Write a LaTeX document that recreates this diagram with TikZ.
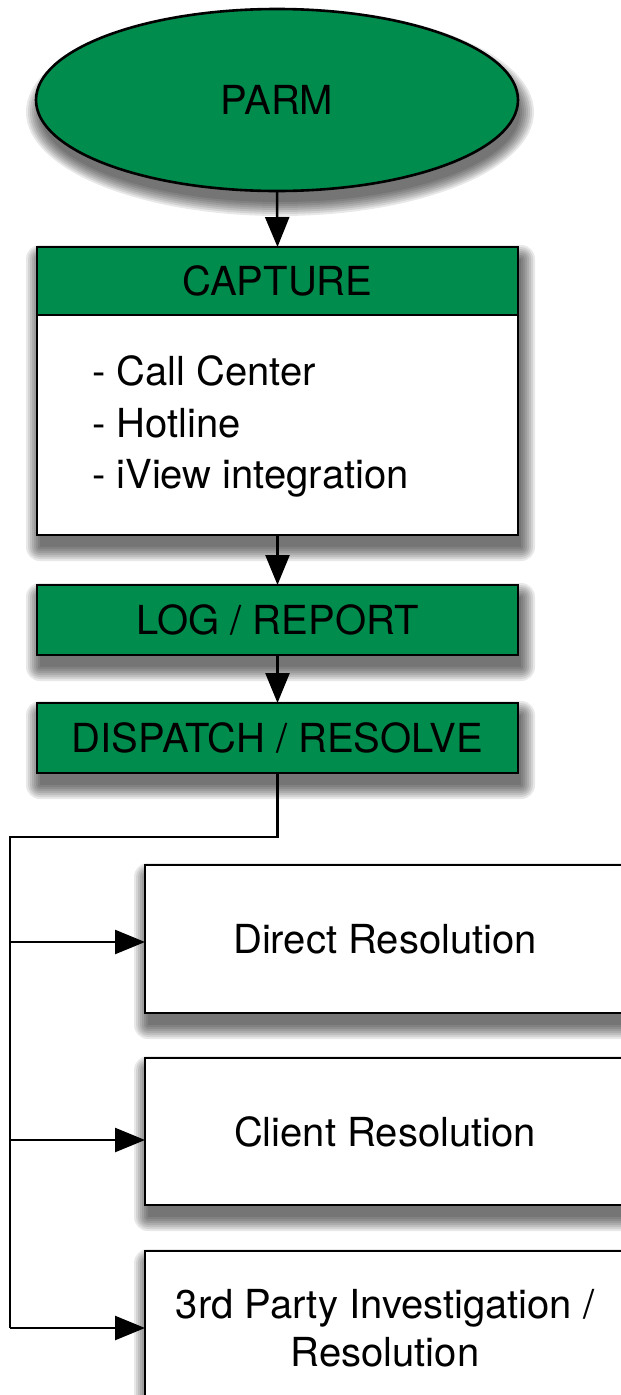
\documentclass[tikz,border=0pt]{standalone}
\usepackage{fontspec}
\setmainfont{TeX Gyre Heros}
\usetikzlibrary{arrows.meta,shapes.geometric,backgrounds,calc}
\definecolor{parmgreen}{RGB}{0,140,76}
\begin{document}
\begin{tikzpicture}[x=1pt,y=1pt,
  every node/.style={font=\fontsize{40}{48}\selectfont, inner sep=0pt, outer sep=0pt, text=black},
  greenbox/.style={rectangle, draw=black, line width=2.6pt, fill=parmgreen, minimum width=481pt, minimum height=70pt},
  whitebox/.style={rectangle, draw=black, line width=2.6pt, fill=white, minimum width=480pt},
  itemtext/.style={anchor=base west},
  arr/.style={line width=2.5pt, -{Triangle[length=30pt,width=24pt]}},
  conn/.style={line width=2.5pt},
  shadelayer/.style={fill=black, opacity=0.09}
]
\useasboundingbox (0,0) rectangle (621,-1395);

% top ellipse
\node[ellipse, draw=black, line width=2.6pt, fill=parmgreen, minimum width=482pt, minimum height=182pt] (parm) at (277,-100) {PARM};

% capture
\node[greenbox, minimum height=68pt] (caphead) at (277.5,-281) {CAPTURE};
\node[whitebox, minimum width=481pt, minimum height=220pt, anchor=north] (capbody) at (caphead.south) {};
\node[itemtext] (it1) at (92,-385) {- Call Center};
\node[itemtext] (it2) at (92,-437) {- Hotline};
\node[itemtext] (it3) at (92,-488) {- iView integration};

% log / dispatch
\node[greenbox] (log) at (277.5,-620) {LOG / REPORT};
\node[greenbox] (disp) at (277.5,-738) {DISPATCH / RESOLVE};

% resolution boxes
\node[whitebox, minimum height=148pt] (direct) at (385,-939) {Direct Resolution};
\node[whitebox, minimum height=147pt] (client) at (385,-1131.5) {Client Resolution};
\node[whitebox, minimum height=154pt, align=center] (third) at (385,-1328) {3rd Party Investigation /\\Resolution};

% soft drop shadows
\begin{scope}[on background layer]
  \fill[white] (0,0) rectangle (621,-1395);
  \foreach \k in {0,2,...,14} {
    \fill[shadelayer] ($(parm.center)+(3,-12)$) ellipse ({240+\k} and {90+\k});
  }
  \foreach \a/\b in {caphead/capbody, log/log, disp/disp, direct/direct, client/client, third/third} {
    \foreach \k in {0,2,...,14} {
      \fill[shadelayer, rounded corners=\k pt] ($(\b.south west)+(3-\k,-12-\k)$) rectangle ($(\a.north east)+(3+\k,-12+\k)$);
    }
  }
\end{scope}

% connectors
\draw[arr] (parm.south) -- (caphead.north);
\draw[arr] (capbody.south) -- (log.north);
\draw[arr] (log.south) -- (disp.north);

\coordinate (bend) at (10,-837);
\coordinate (t1) at (10,-942);
\coordinate (t2) at (10,-1140);
\coordinate (t3) at (10,-1328);
\draw[conn, line join=miter] (disp.south) |- (bend) -- (t3);
\draw[arr] (t1) -- (t1 -| direct.west);
\draw[arr] (t2) -- (t2 -| client.west);
\draw[arr] (t3) -- (t3 -| third.west);
\end{tikzpicture}
\end{document}
